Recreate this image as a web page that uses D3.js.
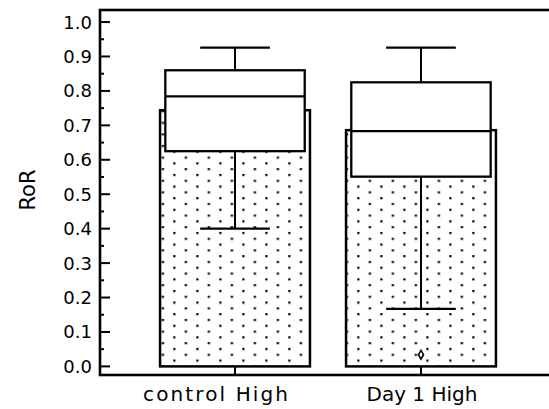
<!DOCTYPE html>
<html>
<head>
<meta charset="utf-8">
<script src="https://cdn.jsdelivr.net/npm/d3@7/dist/d3.min.js"></script>
<style>
  html, body { margin: 0; padding: 0; background: #fff; }
  svg { display: block; }
  text { font-family: "DejaVu Sans", Verdana, sans-serif; fill: #000; }
</style>
</head>
<body>
<svg id="chart" width="549" height="409"></svg>
<script>
// Groups and summary statistics of RoR
const categories = ["control High", "Day 1 High"];
const means      = [0.744, 0.686];
const q1         = [0.625, 0.551];
const medians    = [0.784, 0.683];
const q3         = [0.860, 0.825];
const whiskerLo  = [0.400, 0.167];
const whiskerHi  = [0.926, 0.926];
const outliers   = [[], [0.034]];
const yTicks     = [0.0, 0.1, 0.2, 0.3, 0.4, 0.5, 0.6, 0.7, 0.8, 0.9, 1.0];

const plot = { left: 100, top: 10, right: 556, bottom: 375 };
// category label layout: drawn width and horizontal shift from the tick
const labelLayout = { "control High": { len: 145, dx: -19.5 }, "Day 1 High": { len: 111, dx: 1 } };

const svg = d3.select("#chart");

const y = d3.scaleLinear().domain([-0.025, 1.035]).range([plot.bottom, plot.top]);
const x = d3.scaleBand().domain(categories)
  .range([plot.left, plot.right])
  .paddingInner(0.194).paddingOuter(0.323);

const rows = categories.map((c, i) => ({
  c, mean: means[i], q1: q1[i], med: medians[i], q3: q3[i],
  lo: whiskerLo[i], hi: whiskerHi[i], out: outliers[i]
}));

// dotted fill for the mean bars
const defs = svg.append("defs");
const pat = defs.append("pattern")
  .attr("id", "dots")
  .attr("patternUnits", "userSpaceOnUse")
  .attr("x", 173.3 % 23).attr("y", 162.3 % 11.6)
  .attr("width", 23).attr("height", 11.6);
pat.append("rect").attr("width", 23).attr("height", 11.6).attr("fill", "#fff");
pat.append("rect").attr("x", 0).attr("y", 0).attr("width", 2.2).attr("height", 2.2).attr("fill", "#000");
pat.append("rect").attr("x", 11.5).attr("y", 5.8).attr("width", 2.2).attr("height", 2.2).attr("fill", "#000");

const bw = x.bandwidth();
const boxW = bw * 0.93;
const capW = boxW * 0.5;

const g = svg.append("g");

// mean bars
g.selectAll("rect.bar").data(rows).join("rect")
  .attr("class", "bar")
  .attr("x", d => x(d.c))
  .attr("width", bw)
  .attr("y", d => y(d.mean))
  .attr("height", d => y(0) - y(d.mean))
  .attr("fill", "url(#dots)")
  .attr("stroke", "#000")
  .attr("stroke-width", 2.5);

// whiskers
rows.forEach(d => {
  const cx = x(d.c) + bw / 2;
  g.append("line").attr("x1", cx).attr("x2", cx)
    .attr("y1", y(d.hi)).attr("y2", y(d.q3))
    .attr("stroke", "#000").attr("stroke-width", 2);
  g.append("line").attr("x1", cx).attr("x2", cx)
    .attr("y1", y(d.q1)).attr("y2", y(d.lo))
    .attr("stroke", "#000").attr("stroke-width", 2);
  [d.hi, d.lo].forEach(v => {
    g.append("line").attr("x1", cx - capW / 2).attr("x2", cx + capW / 2)
      .attr("y1", y(v)).attr("y2", y(v))
      .attr("stroke", "#000").attr("stroke-width", 2.3);
  });
});

// boxes
g.selectAll("rect.box").data(rows).join("rect")
  .attr("class", "box")
  .attr("x", d => x(d.c) + (bw - boxW) / 2)
  .attr("width", boxW)
  .attr("y", d => y(d.q3))
  .attr("height", d => y(d.q1) - y(d.q3))
  .attr("fill", "#fff")
  .attr("stroke", "#000")
  .attr("stroke-width", 2.3);

// medians
g.selectAll("line.med").data(rows).join("line")
  .attr("class", "med")
  .attr("x1", d => x(d.c) + (bw - boxW) / 2)
  .attr("x2", d => x(d.c) + (bw + boxW) / 2)
  .attr("y1", d => y(d.med)).attr("y2", d => y(d.med))
  .attr("stroke", "#000").attr("stroke-width", 2.3);

// outliers
const diamond = d3.symbol().type(d3.symbolDiamond).size(22);
rows.forEach(d => {
  const cx = x(d.c) + bw / 2;
  d.out.forEach(v => {
    g.append("path").attr("d", diamond)
      .attr("transform", `translate(${cx},${y(v)})`)
      .attr("fill", "#fff").attr("stroke", "#000").attr("stroke-width", 1.6);
  });
});

// frame
svg.append("rect")
  .attr("x", plot.left).attr("y", plot.top)
  .attr("width", plot.right - plot.left).attr("height", plot.bottom - plot.top)
  .attr("fill", "none").attr("stroke", "#000").attr("stroke-width", 2.6);

// y axis: inward ticks with minor ticks between
const yAxis = svg.append("g");
yTicks.forEach(v => {
  yAxis.append("line").attr("x1", plot.left).attr("x2", plot.left + 10)
    .attr("y1", y(v)).attr("y2", y(v)).attr("stroke", "#000").attr("stroke-width", 2);
  yAxis.append("text").attr("x", 92).attr("y", y(v)).attr("dy", "0.36em")
    .attr("text-anchor", "end").attr("font-size", 18).text(v.toFixed(1));
});
d3.pairs(yTicks).forEach(([a, b]) => {
  const v = (a + b) / 2;
  yAxis.append("line").attr("x1", plot.left).attr("x2", plot.left + 4)
    .attr("y1", y(v)).attr("y2", y(v)).attr("stroke", "#000").attr("stroke-width", 2);
});

// x axis ticks and labels
const xAxis = svg.append("g");
categories.forEach(c => {
  const cx = x(c) + bw / 2;
  const lay = labelLayout[c];
  xAxis.append("line").attr("x1", cx).attr("x2", cx)
    .attr("y1", plot.bottom).attr("y2", plot.bottom - 8)
    .attr("stroke", "#000").attr("stroke-width", 2);
  xAxis.append("text").attr("x", cx + lay.dx).attr("y", 401)
    .attr("text-anchor", "middle").attr("font-size", 20)
    .attr("textLength", lay.len).attr("lengthAdjust", "spacing")
    .text(c);
});

// y axis title
svg.append("text")
  .attr("transform", `translate(35,190) rotate(-90)`)
  .attr("text-anchor", "middle").attr("font-size", 21).text("RoR");
</script>
</body>
</html>
